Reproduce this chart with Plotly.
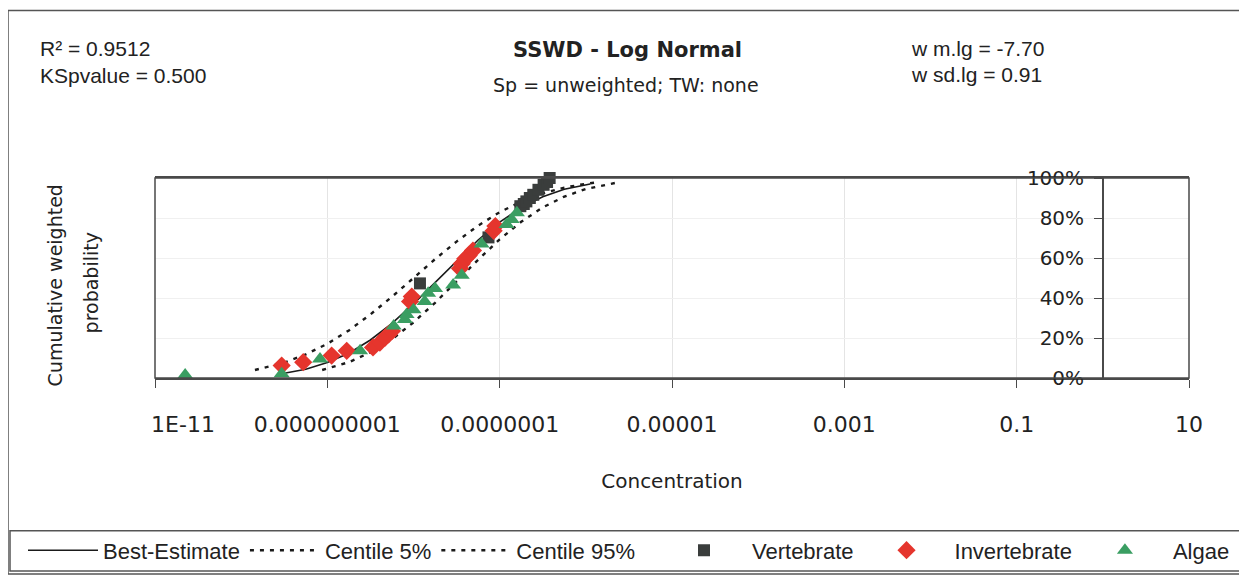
import plotly.graph_objects as go

# ---------------- data ----------------
# concentrations are stored as log10 values
best_log10 = [-9.5, -9.25, -9.0, -8.75, -8.5, -8.25, -8.0, -7.75, -7.5, -7.25,
              -7.0, -6.75, -6.5, -6.25, -5.95]
best_p = [0.024, 0.044, 0.077, 0.124, 0.190, 0.273, 0.371, 0.478, 0.587, 0.690,
          0.779, 0.852, 0.906, 0.944, 0.970]

c5_log10 = [-9.84, -9.5, -9.25, -9.0, -8.75, -8.5, -8.25, -8.0, -7.75, -7.5,
            -7.25, -7.0, -6.75, -6.5, -6.25, -6.0, -5.85]
c5_p = [0.040, 0.077, 0.118, 0.171, 0.238, 0.318, 0.406, 0.500, 0.594, 0.682,
        0.762, 0.829, 0.882, 0.923, 0.952, 0.971, 0.979]

c95_log10 = [-9.06, -8.75, -8.5, -8.25, -8.0, -7.75, -7.5, -7.25, -7.0, -6.75,
             -6.5, -6.25, -6.0, -5.75, -5.65]
c95_p = [0.040, 0.079, 0.128, 0.194, 0.278, 0.376, 0.483, 0.591, 0.693, 0.781,
         0.853, 0.907, 0.945, 0.969, 0.976]

vert_log10 = [-7.925, -7.13, -6.76, -6.72, -6.69, -6.65, -6.61, -6.55, -6.49, -6.45, -6.42]
vert_p = [0.473, 0.703, 0.859, 0.870, 0.883, 0.900, 0.916, 0.941, 0.966, 0.980, 1.000]

invert_log10 = [-9.53, -9.28, -8.95, -8.775, -8.47, -8.39, -8.33, -8.29, -8.25,
                -8.04, -8.02, -7.46, -7.44, -7.40, -7.36, -7.31, -7.07, -7.05]
invert_p = [0.062, 0.079, 0.112, 0.136, 0.153, 0.177, 0.202, 0.218, 0.235,
            0.383, 0.407, 0.547, 0.571, 0.596, 0.612, 0.637, 0.736, 0.760]

algae_log10 = [-10.65, -9.53, -9.085, -8.62, -8.23, -8.10, -8.08, -8.00, -7.87,
               -7.83, -7.75, -7.54, -7.44, -7.21, -6.92, -6.86, -6.80]
algae_p = [0.015, 0.021, 0.095, 0.136, 0.260, 0.292, 0.317, 0.341, 0.383,
           0.424, 0.448, 0.465, 0.514, 0.670, 0.768, 0.793, 0.826]

x_tickvals = [1e-11, 1e-9, 1e-7, 1e-5, 1e-3, 1e-1, 10]
x_ticktext = ["\u00a0" * 8 + "1E-11", "0.000000001", "0.0000001", "0.00001",
              "0.001", "0.1", "10"]
y_tickvals = [0, 0.2, 0.4, 0.6, 0.8, 1.0]

stats_left = ["R\u00b2 = 0.9512", "KSpvalue = 0.500"]
stats_right = ["w m.lg = -7.70", "w sd.lg = 0.91"]
title_text = "SSWD - Log Normal"
subtitle_text = "Sp = unweighted; TW: none"


def conc(vals):
    return [10 ** v for v in vals]


# ---------------- layout geometry (screen pixels) ----------------
OFF = 8                      # page body margin
W, H = 1247, 583
L, R, T, B = 155, 1189, 178, 381


def fx(p):
    return (p - L) / (R - L)


def fy(p):
    return (B - p) / (B - T)


INK = "#222222"
AX = "#4a4a4a"

fig = go.Figure()

fig.add_trace(go.Scatter(x=conc(best_log10), y=best_p, mode="lines", name="Best-Estimate",
                         legend="legend",
                         line=dict(color="#1a1a1a", width=1.6)))
fig.add_trace(go.Scatter(x=conc(c5_log10), y=c5_p, mode="lines", name="Centile 5%",
                         legend="legend",
                         line=dict(color="#1a1a1a", width=2.4, dash="4px,6px")))
fig.add_trace(go.Scatter(x=conc(c95_log10), y=c95_p, mode="lines", name="Centile 95%",
                         legend="legend",
                         line=dict(color="#1a1a1a", width=2.4, dash="4px,6px")))
fig.add_trace(go.Scatter(x=conc(vert_log10), y=vert_p, mode="markers", name="Vertebrate",
                         legend="legend2", cliponaxis=False,
                         marker=dict(symbol="square", size=12, color="#3a3d3c",
                                     line=dict(width=0))))
fig.add_trace(go.Scatter(x=conc(invert_log10), y=invert_p, mode="markers", name="Invertebrate",
                         legend="legend2", cliponaxis=False,
                         marker=dict(symbol="diamond", size=14, color="#e5352d",
                                     line=dict(width=0))))
fig.add_trace(go.Scatter(x=conc(algae_log10), y=algae_p, mode="markers", name="Algae",
                         legend="legend2", cliponaxis=False,
                         marker=dict(symbol="triangle-up", size=14, color="#3a9e62",
                                     line=dict(width=0))))


def note(x, y, text, family, size, xanchor="left", angle=0):
    return dict(x=fx(x), y=fy(y), xref="paper", yref="paper", text=text,
                showarrow=False, xanchor=xanchor, yanchor="middle", textangle=angle,
                font=dict(family=family, size=size, color=INK))


annotations = [
    note(38, 47, stats_left[0], "Liberation Sans", 21),
    note(38, 74, stats_left[1], "Liberation Sans", 21),
    note(909, 47, stats_right[0], "Liberation Sans", 21),
    note(909, 73, stats_right[1], "Liberation Sans", 21),
    note(627, 48, "<b>" + title_text + "</b>", "DejaVu Sans", 21, "center"),
    note(626, 84, subtitle_text, "DejaVu Sans", 19, "center"),
    note(55, 287, "Cumulative weighted", "DejaVu Sans", 19, "center", -90),
    note(91, 285, "probability", "DejaVu Sans", 19, "center", -90),
]

shapes = [
    # outer chart border
    dict(type="rect", xref="paper", yref="paper", x0=fx(8), x1=fx(1243), y0=fy(580), y1=fy(8),
         line=dict(color="#555555", width=1.5), layer="below"),
    # legend box
    dict(type="rect", xref="paper", yref="paper", x0=fx(10), x1=fx(1240), y0=fy(577), y1=fy(536),
         line=dict(color="#555555", width=1.5), layer="below"),
    # plot frame
    dict(type="rect", xref="x domain", yref="y domain", x0=0, x1=1, y0=0, y1=1,
         line=dict(color=AX, width=1.5), layer="above"),
]

legend_font = dict(family="Liberation Sans", size=22, color=INK)

fig.update_layout(
    width=W - OFF, height=H - OFF,
    margin=dict(l=L - OFF, r=W - R, t=T - OFF, b=H - B),
    paper_bgcolor="white", plot_bgcolor="white",
    showlegend=True,
    legend=dict(orientation="h", x=fx(23), y=fy(556), xanchor="left", yanchor="middle",
                font=legend_font, bgcolor="rgba(0,0,0,0)", borderwidth=0,
                itemwidth=70, traceorder="normal"),
    legend2=dict(orientation="h", x=fx(656), y=fy(556), xanchor="left", yanchor="middle",
                 font=legend_font, bgcolor="rgba(0,0,0,0)", borderwidth=0,
                 itemwidth=86, traceorder="normal"),
    xaxis=dict(type="log", range=[-11, 1], tickvals=x_tickvals, ticktext=x_ticktext,
               showgrid=True, gridcolor="#e4e4e4", gridwidth=1,
               showline=True, linecolor=AX, linewidth=1.5, mirror=True,
               ticks="outside", ticklen=8, tickcolor=AX,
               tickfont=dict(family="DejaVu Sans", size=22, color=INK),
               ticklabelstandoff=18,
               title=dict(text="Concentration", standoff=38,
                          font=dict(family="DejaVu Sans", size=20, color=INK)),
               zeroline=False),
    yaxis=dict(range=[0, 1], tickvals=y_tickvals, tickformat=".0%",
               anchor="free", position=11 / 12, side="left",
               showgrid=True, gridcolor="#f0f0f0", gridwidth=1,
               showline=True, linecolor=AX, linewidth=1.5,
               ticks="outside", ticklen=8, tickcolor=AX,
               tickfont=dict(family="DejaVu Sans", size=20, color=INK),
               ticklabelstandoff=6,
               zeroline=False),
    annotations=annotations,
    shapes=shapes,
)

fig.write_html("out.html")
